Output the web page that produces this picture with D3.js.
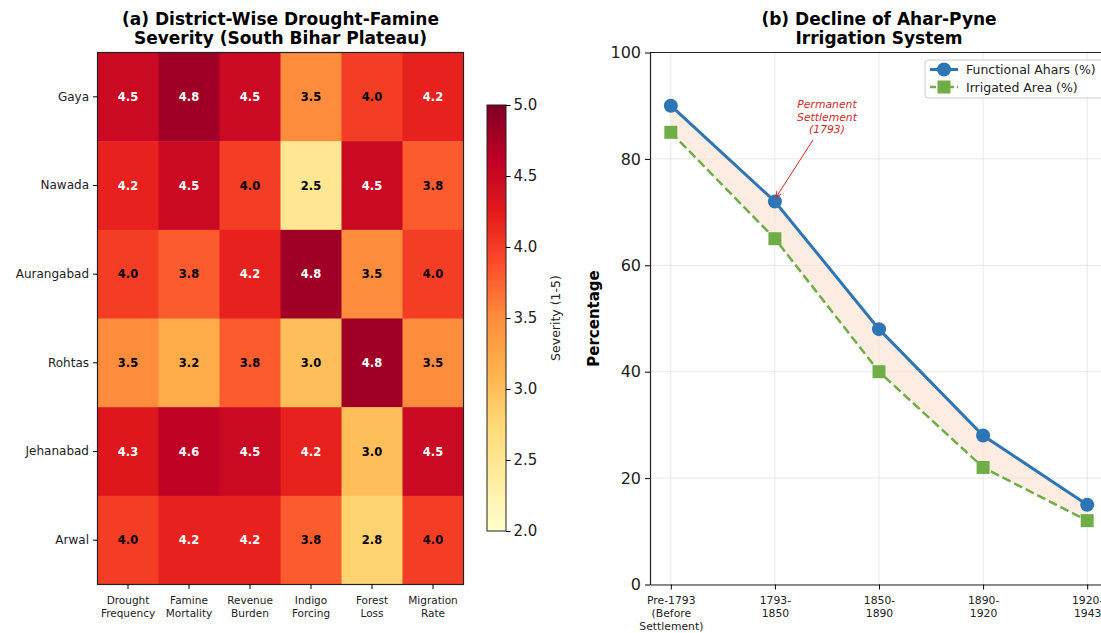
<!DOCTYPE html>
<html>
<head>
<meta charset="utf-8">
<script src="https://cdn.jsdelivr.net/npm/d3@7"></script>
<style>
  body { margin: 0; background: #fff; }
  svg { display: block; font-family: "DejaVu Sans", sans-serif; }
</style>
</head>
<body>
<div id="chart"></div>
<script>
// data
var districts = ["Gaya", "Nawada", "Aurangabad", "Rohtas", "Jehanabad", "Arwal"];
var factors = ["Drought\nFrequency", "Famine\nMortality", "Revenue\nBurden", "Indigo\nForcing", "Forest\nLoss", "Migration\nRate"];
var severity = [
  [4.5, 4.8, 4.5, 3.5, 4.0, 4.2],
  [4.2, 4.5, 4.0, 2.5, 4.5, 3.8],
  [4.0, 3.8, 4.2, 4.8, 3.5, 4.0],
  [3.5, 3.2, 3.8, 3.0, 4.8, 3.5],
  [4.3, 4.6, 4.5, 4.2, 3.0, 4.5],
  [4.0, 4.2, 4.2, 3.8, 2.8, 4.0]
];
var severityTicks = [2.0, 2.5, 3.0, 3.5, 4.0, 4.5, 5.0];

var periods = ["Pre-1793\n(Before\nSettlement)", "1793-\n1850", "1850-\n1890", "1890-\n1920", "1920-\n1943"];
var functionalAhars = [90, 72, 48, 28, 15];
var irrigatedArea = [85, 65, 40, 22, 12];
var pctTicks = [0, 20, 40, 60, 80, 100];

var W = 1101, H = 633;
var svg = d3.select("#chart").append("svg")
  .attr("width", W)
  .attr("height", H);

// YlOrRd, same stops as matplotlib
var ylorrd = ["#ffffcc","#ffeda0","#fed976","#feb24c","#fd8d3c","#fc4e2a","#e31a1c","#bd0026","#800026"];
var color = d3.scaleLinear()
  .domain(d3.range(9).map(function(i) { return 2 + i * 3 / 8; }))
  .range(ylorrd)
  .interpolate(d3.interpolateRgb);

// split "\n" into tspans; first line keeps the given dy
function multiline(sel, lh, x, dy0) {
  sel.each(function() {
    var t = d3.select(this), lines = t.text().split("\n");
    t.text(null);
    lines.forEach(function(l, i) {
      t.append("tspan").attr("x", x || 0).attr("dy", i ? lh : (dy0 || 0)).text(l);
    });
  });
}

// ---------- (a) heatmap ----------
var hm = { left: 97.5, top: 52.5, width: 366, height: 532 };
var gA = svg.append("g").attr("transform", "translate(" + hm.left + "," + hm.top + ")");

var xA = d3.scaleBand().domain(factors).range([0, hm.width]);
var yA = d3.scaleBand().domain(districts).range([0, hm.height]);

var cells = [];
severity.forEach(function(row, i) {
  row.forEach(function(v, j) { cells.push({ d: districts[i], f: factors[j], v: v }); });
});

gA.selectAll("rect.cell").data(cells).enter().append("rect")
  .attr("class", "cell")
  .attr("x", function(c) { return xA(c.f); })
  .attr("y", function(c) { return yA(c.d); })
  .attr("width", xA.bandwidth() + 0.5)
  .attr("height", yA.bandwidth() + 0.5)
  .attr("fill", function(c) { return color(c.v); });

gA.selectAll("text.val").data(cells).enter().append("text")
  .attr("class", "val")
  .attr("x", function(c) { return xA(c.f) + xA.bandwidth() / 2; })
  .attr("y", function(c) { return yA(c.d) + yA.bandwidth() / 2; })
  .attr("text-anchor", "middle")
  .attr("dominant-baseline", "central")
  .attr("font-size", 11.5)
  .attr("font-weight", "bold")
  .attr("fill", function(c) { return c.v > 4.0 ? "#fff" : "#000"; })
  .text(function(c) { return c.v.toFixed(1); });

gA.append("rect")
  .attr("width", hm.width).attr("height", hm.height)
  .attr("fill", "none").attr("stroke", "#222").attr("stroke-width", 1.2);

var axL = gA.append("g").call(d3.axisLeft(yA).tickSize(4.5).tickPadding(4));
axL.select(".domain").remove();
axL.selectAll("text").attr("font-size", 12).attr("fill", "#222").style("font-family", "DejaVu Sans");

var axB = gA.append("g").attr("transform", "translate(0," + hm.height + ")")
  .call(d3.axisBottom(xA).tickSize(4.5).tickPadding(8));
axB.select(".domain").remove();
axB.selectAll("text").attr("font-size", 10.5).attr("fill", "#222").style("font-family", "DejaVu Sans")
  .call(multiline, 13, 0, "0.71em");

svg.append("text")
  .attr("x", hm.left + hm.width / 2).attr("y", 24.5)
  .attr("text-anchor", "middle").attr("font-size", 17).attr("font-weight", "bold")
  .text("(a) District-Wise Drought-Famine\nSeverity (South Bihar Plateau)")
  .call(multiline, 19.5, hm.left + hm.width / 2);

// colorbar
var cb = { x: 487, y: 105, w: 19, h: 426 };
var yCb = d3.scaleLinear().domain([2, 5]).range([cb.y + cb.h, cb.y]);
var grad = svg.append("defs").append("linearGradient")
  .attr("id", "cbgrad").attr("x1", 0).attr("y1", 1).attr("x2", 0).attr("y2", 0);
ylorrd.forEach(function(c, i) {
  grad.append("stop").attr("offset", i / 8).attr("stop-color", c);
});
svg.append("rect")
  .attr("x", cb.x).attr("y", cb.y).attr("width", cb.w).attr("height", cb.h)
  .attr("fill", "url(#cbgrad)").attr("stroke", "#222").attr("stroke-width", 1);
var axCb = svg.append("g").attr("transform", "translate(" + (cb.x + cb.w) + ",0)")
  .call(d3.axisRight(yCb).tickValues(severityTicks).tickFormat(d3.format(".1f")).tickSize(4.5).tickPadding(3));
axCb.select(".domain").remove();
axCb.selectAll("text").attr("font-size", 15).attr("fill", "#222").style("font-family", "DejaVu Sans");
svg.append("text")
  .attr("transform", "translate(560," + (cb.y + cb.h / 2) + ") rotate(-90)")
  .attr("text-anchor", "middle").attr("font-size", 12.5).attr("fill", "#222")
  .text("Severity (1-5)");

// ---------- (b) line chart ----------
var lc = { left: 650, right: 1108, top: 52.5, bottom: 584.5 };
var idx = d3.range(periods.length);
var xB = d3.scaleLinear().domain([-0.2, periods.length - 1 + 0.2]).range([lc.left, lc.right]);
var yB = d3.scaleLinear().domain([0, 100]).range([lc.bottom, lc.top]);

var gB = svg.append("g");
// grid
gB.selectAll("line.gx").data(idx).enter().append("line")
  .attr("x1", function(i) { return xB(i); }).attr("x2", function(i) { return xB(i); })
  .attr("y1", lc.top).attr("y2", lc.bottom)
  .attr("stroke", "#b0b0b0").attr("stroke-opacity", 0.35).attr("stroke-width", 0.8);
gB.selectAll("line.gy").data(pctTicks).enter().append("line")
  .attr("x1", lc.left).attr("x2", lc.right)
  .attr("y1", function(v) { return yB(v); }).attr("y2", function(v) { return yB(v); })
  .attr("stroke", "#b0b0b0").attr("stroke-opacity", 0.35).attr("stroke-width", 0.8);

// fill between
var area = d3.area()
  .x(function(i) { return xB(i); })
  .y0(function(i) { return yB(irrigatedArea[i]); })
  .y1(function(i) { return yB(functionalAhars[i]); });
gB.append("path").datum(idx).attr("d", area).attr("fill", "#f9d9c4").attr("fill-opacity", 0.5);

var blue = "#2e75b6", green = "#70ad47";
var lineF = d3.line().x(function(i) { return xB(i); }).y(function(i) { return yB(functionalAhars[i]); });
var lineI = d3.line().x(function(i) { return xB(i); }).y(function(i) { return yB(irrigatedArea[i]); });

gB.append("path").datum(idx).attr("d", lineI)
  .attr("fill", "none").attr("stroke", green).attr("stroke-width", 2.5).attr("stroke-dasharray", "9,4");
gB.selectAll("rect.sq").data(idx).enter().append("rect")
  .attr("x", function(i) { return xB(i) - 6.5; }).attr("y", function(i) { return yB(irrigatedArea[i]) - 6.5; })
  .attr("width", 13).attr("height", 13).attr("fill", green);

gB.append("path").datum(idx).attr("d", lineF)
  .attr("fill", "none").attr("stroke", blue).attr("stroke-width", 3);
gB.selectAll("circle.pt").data(idx).enter().append("circle")
  .attr("cx", function(i) { return xB(i); }).attr("cy", function(i) { return yB(functionalAhars[i]); })
  .attr("r", 7).attr("fill", blue);

// spines
gB.append("line").attr("x1", lc.left).attr("x2", lc.right).attr("y1", lc.top).attr("y2", lc.top)
  .attr("stroke", "#222").attr("stroke-width", 1.2);
var axY = gB.append("g").attr("transform", "translate(" + lc.left + ",0)")
  .call(d3.axisLeft(yB).tickValues(pctTicks).tickSize(5).tickPadding(4).tickSizeOuter(0));
axY.select(".domain").attr("stroke", "#222").attr("stroke-width", 1.2);
axY.selectAll("text").attr("font-size", 16).attr("fill", "#222").style("font-family", "DejaVu Sans");
var axX = gB.append("g").attr("transform", "translate(0," + lc.bottom + ")")
  .call(d3.axisBottom(xB).tickValues(idx).tickFormat(function(i) { return periods[i]; })
    .tickSize(5).tickPadding(7).tickSizeOuter(0));
axX.select(".domain").attr("stroke", "#222").attr("stroke-width", 1.2);
axX.selectAll("text").attr("font-size", 10.8).attr("fill", "#222").style("font-family", "DejaVu Sans")
  .call(multiline, 13, 0, "0.71em");

svg.append("text")
  .attr("transform", "translate(599," + ((lc.top + lc.bottom) / 2) + ") rotate(-90)")
  .attr("text-anchor", "middle").attr("font-size", 15).attr("font-weight", "bold")
  .text("Percentage");

svg.append("text")
  .attr("x", 879).attr("y", 24.5)
  .attr("text-anchor", "middle").attr("font-size", 17).attr("font-weight", "bold")
  .text("(b) Decline of Ahar-Pyne\nIrrigation System")
  .call(multiline, 19.5, 879);

// annotation
var red = "#d62728";
svg.append("defs").append("marker")
  .attr("id", "arr").attr("viewBox", "0 0 10 10").attr("refX", 9).attr("refY", 5)
  .attr("markerWidth", 7).attr("markerHeight", 7).attr("orient", "auto")
  .append("path").attr("d", "M0,1 L9,5 L0,9").attr("fill", "none").attr("stroke", red).attr("stroke-width", 1.3);
svg.append("line")
  .attr("x1", 813).attr("y1", 140)
  .attr("x2", xB(1) + 1).attr("y2", yB(functionalAhars[1]) - 4)
  .attr("stroke", red).attr("stroke-width", 1).attr("marker-end", "url(#arr)");
svg.append("text")
  .attr("x", 827).attr("y", 108)
  .attr("text-anchor", "middle").attr("font-size", 10.8).attr("font-style", "italic").attr("fill", red)
  .text("Permanent\nSettlement\n(1793)")
  .call(multiline, 12.5, 827);

// legend
var lg = svg.append("g").attr("transform", "translate(925,60)");
lg.append("rect").attr("width", 180).attr("height", 38).attr("rx", 3)
  .attr("fill", "#fff").attr("fill-opacity", 0.85).attr("stroke", "#ccc").attr("stroke-width", 1);
var items = [
  { label: "Functional Ahars (%)", color: blue, dash: null, shape: "circle" },
  { label: "Irrigated Area (%)", color: green, dash: "6,3", shape: "square" }
];
items.forEach(function(it, i) {
  var y = 9.5 + i * 17.5;
  lg.append("line").attr("x1", 5).attr("x2", 33).attr("y1", y).attr("y2", y)
    .attr("stroke", it.color).attr("stroke-width", it.shape === "circle" ? 3 : 2.5)
    .attr("stroke-dasharray", it.dash);
  if (it.shape === "circle") {
    lg.append("circle").attr("cx", 19).attr("cy", y).attr("r", 7).attr("fill", it.color);
  } else {
    lg.append("rect").attr("x", 12.5).attr("y", y - 6.5).attr("width", 13).attr("height", 13).attr("fill", it.color);
  }
  lg.append("text").attr("x", 41).attr("y", y).attr("dominant-baseline", "central")
    .attr("font-size", 12.5).attr("fill", "#222").text(it.label);
});
</script>
</body>
</html>
